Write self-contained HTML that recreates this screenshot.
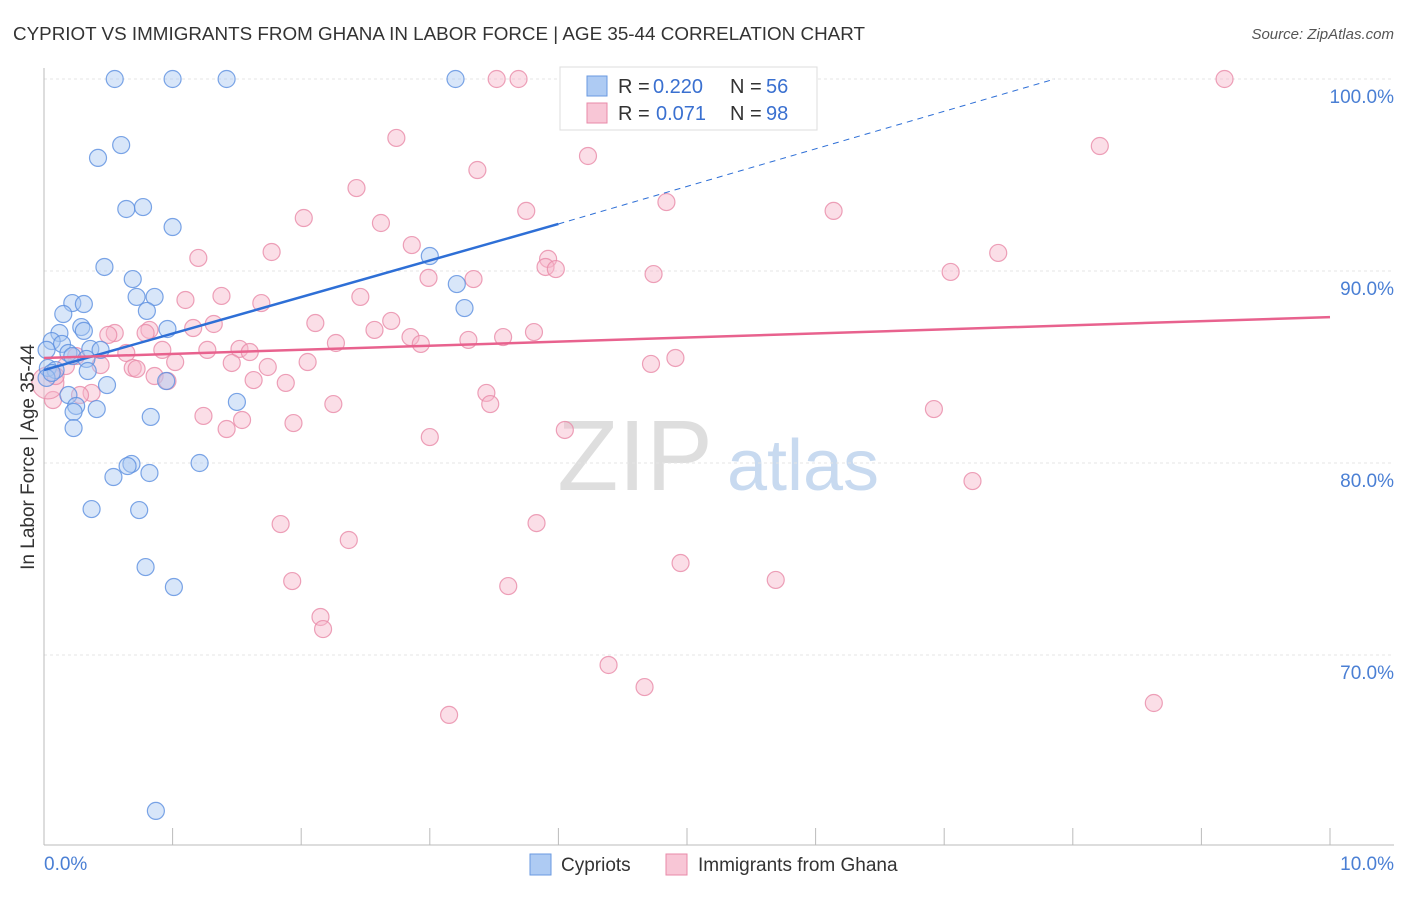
<!DOCTYPE html>
<html><head><meta charset="utf-8">
<style>
body{margin:0;background:#fff;font-family:"Liberation Sans",sans-serif;}
svg text{font-family:"Liberation Sans",sans-serif;}
</style></head>
<body>
<svg id="chart" width="1406" height="892" xmlns="http://www.w3.org/2000/svg">
<text x="13" y="40" font-size="18" fill="#333" textLength="852" lengthAdjust="spacingAndGlyphs">CYPRIOT VS IMMIGRANTS FROM GHANA IN LABOR FORCE | AGE 35-44 CORRELATION CHART</text>
<text x="1394" y="39" font-size="15" fill="#555" font-style="italic" text-anchor="end">Source: ZipAtlas.com</text>
<g>
<text x="635" y="490" font-size="100" fill="#dedede" font-family="Liberation Serif" text-anchor="middle">ZIP</text>
<text x="803" y="490" font-size="72" fill="#c8daf0" text-anchor="middle">atlas</text>
</g>
<g id="grid"></g>
<g id="axes"></g>
<g id="marks"></g>
<text transform="translate(34,457) rotate(-90)" font-size="19" fill="#333" text-anchor="middle">In Labor Force | Age 35-44</text>
<text x="44" y="870" font-size="19" fill="#4a7fd4">0.0%</text>
<text x="1394" y="870" font-size="19" fill="#4a7fd4" text-anchor="end">10.0%</text>
<g>
<rect x="560" y="67" width="257" height="63" fill="#fff" stroke="#ddd"/>
<rect x="587" y="76" width="20" height="20" fill="#aecbf3" stroke="#6a9ae0"/>
<text x="618" y="93" font-size="20" fill="#333">R =</text>
<text x="653" y="93" font-size="20" fill="#3a70d0">0.220</text>
<text x="730" y="93" font-size="20" fill="#333">N =</text>
<text x="766" y="93" font-size="20" fill="#3a70d0">56</text>
<rect x="587" y="103" width="20" height="20" fill="#f8c6d6" stroke="#e88aa8"/>
<text x="618" y="120" font-size="20" fill="#333">R =</text>
<text x="656" y="120" font-size="20" fill="#3a70d0">0.071</text>
<text x="730" y="120" font-size="20" fill="#333">N =</text>
<text x="766" y="120" font-size="20" fill="#3a70d0">98</text>
</g>
<g>
<rect x="530" y="854" width="21" height="21" fill="#aecbf3" stroke="#6a9ae0"/>
<text x="561" y="871" font-size="19" fill="#333">Cypriots</text>
<rect x="666" y="854" width="21" height="21" fill="#f8c6d6" stroke="#e88aa8"/>
<text x="698" y="871" font-size="19" fill="#333">Immigrants from Ghana</text>
</g>
</svg>
<script>
const yTicks=[100,90,80,70];
const yTickLabels=["100.0%","90.0%","80.0%","70.0%"];
const xTicks=[0,1,2,3,4,5,6,7,8,9,10];
const blueX=[0.55,1.00,1.42,3.20,0.60,0.42,0.64,0.77,1.00,0.47,0.69,0.72,0.86,0.22,0.31,0.80,0.15,3.00,3.21,3.27,0.29,0.31,0.96,0.12,0.06,0.14,0.02,0.36,0.19,0.44,0.22,0.33,0.03,0.09,0.34,0.02,0.49,0.95,0.19,0.25,0.41,1.50,0.23,0.83,0.23,0.68,0.65,0.82,0.54,1.21,0.37,0.74,0.79,1.01,0.87,0.06];
const blueY=[100,100,100,100,96.56,95.89,93.23,93.33,92.29,90.21,89.58,88.65,88.65,88.33,88.28,87.92,87.76,90.78,89.32,88.07,87.08,86.88,86.98,86.77,86.35,86.20,85.89,85.94,85.73,85.89,85.57,85.42,84.95,84.84,84.79,84.43,84.06,84.27,83.54,82.97,82.81,83.18,82.66,82.40,81.82,79.95,79.84,79.48,79.27,80.00,77.60,77.55,74.58,73.54,61.88,84.69];
const pinkX=[3.52,3.69,9.18,2.74,8.21,4.23,3.37,2.43,3.75,4.84,6.14,2.02,2.62,2.86,1.77,1.20,3.92,3.90,3.98,4.74,7.05,7.42,2.99,3.34,1.38,2.46,1.10,1.69,1.32,1.16,0.82,0.79,0.55,0.50,2.11,2.70,2.57,2.85,2.93,3.81,3.57,3.30,2.27,1.27,0.92,0.64,1.52,1.60,0.25,1.02,0.44,0.69,0.72,1.46,1.74,2.05,4.91,4.72,0.17,0.86,0.96,1.63,1.88,3.44,3.47,2.25,1.24,1.54,1.42,1.94,3.00,4.05,6.92,7.22,0.37,0.07,1.84,3.83,2.37,4.95,1.93,3.61,5.69,2.15,2.17,4.39,4.67,3.15,8.63,0.03,0.09,0.28];
const pinkY=[100,100,100,96.93,96.51,95.99,95.26,94.32,93.13,93.59,93.13,92.76,92.50,91.35,90.99,90.68,90.63,90.21,90.10,89.84,89.95,90.94,89.64,89.58,88.70,88.65,88.49,88.33,87.24,87.03,86.93,86.77,86.77,86.67,87.29,87.40,86.93,86.56,86.20,86.82,86.56,86.41,86.25,85.89,85.89,85.73,85.94,85.78,85.57,85.26,85.10,84.95,84.90,85.21,85.00,85.26,85.47,85.16,85.05,84.53,84.27,84.32,84.17,83.65,83.07,83.07,82.45,82.24,81.77,82.08,81.35,81.72,82.81,79.06,83.65,83.28,76.82,76.87,75.99,74.79,73.85,73.59,73.91,71.98,71.35,69.48,68.33,66.88,67.50,84.17,84.53,83.54];
const blueTrend=[[0,84.84],[4.0,92.45],[7.86,100]];
const pinkTrend=[[0,85.47],[10,87.6]];

const NS="http://www.w3.org/2000/svg";
const sx=v=>44+v*128.6;
const sy=v=>79+(100-v)*19.2;
function mk(tag,attrs,parent){const e=document.createElementNS(NS,tag);for(const k in attrs)e.setAttribute(k,attrs[k]);parent.appendChild(e);return e;}
const grid=document.getElementById('grid'),axes=document.getElementById('axes'),marks=document.getElementById('marks');
yTicks.forEach((t,i)=>{
  const l=mk('line',{x1:44,x2:1394,y1:sy(t),y2:sy(t),stroke:'#e4e4e4','stroke-dasharray':'3,3'},grid);
  
  
  const tx=mk('text',{x:1394,y:sy(t)+24,'font-size':19,fill:'#4a7fd4','text-anchor':'end'},grid);
  tx.textContent=yTickLabels[i];
  
  
});
const ya=mk('line',{x1:44,x2:44,y1:68,y2:845,stroke:'#bbb'},axes);


const xa=mk('line',{x1:44,x2:1394,y1:845,y2:845,stroke:'#bbb'},axes);


xTicks.forEach(t=>{
  const l=mk('line',{x1:sx(t),x2:sx(t),y1:828,y2:845,stroke:'#bbb'},axes);
  
  
});
function dots(X,Y,fill,stroke,name){
  X.forEach((x,i)=>{
    const big=(name==='ghana-point'&&x<0.05);
    const c=mk('circle',{cx:sx(x),cy:sy(Y[i]),r:big?16:8.5,fill:fill,'fill-opacity':0.45,stroke:stroke,'stroke-opacity':0.8,'stroke-width':1.2},marks);
    
    
  });
}
dots(pinkX,pinkY,'#f6b6ca','#e98aa8','ghana-point');
dots(blueX,blueY,'#a9c8f2','#5b8fe0','cypriot-point');
const b1=mk('line',{x1:sx(blueTrend[0][0]),y1:sy(blueTrend[0][1]),x2:sx(blueTrend[1][0]),y2:sy(blueTrend[1][1]),stroke:'#2e6fd6','stroke-width':2.5},marks);


const b2=mk('line',{x1:sx(blueTrend[1][0]),y1:sy(blueTrend[1][1]),x2:sx(blueTrend[2][0]),y2:sy(blueTrend[2][1]),stroke:'#2e6fd6','stroke-width':1,'stroke-dasharray':'6,5'},marks);


const p1=mk('line',{x1:sx(pinkTrend[0][0]),y1:sy(pinkTrend[0][1]),x2:sx(pinkTrend[1][0]),y2:sy(pinkTrend[1][1]),stroke:'#e8628e','stroke-width':2.5},marks);


</script>
</body></html>
